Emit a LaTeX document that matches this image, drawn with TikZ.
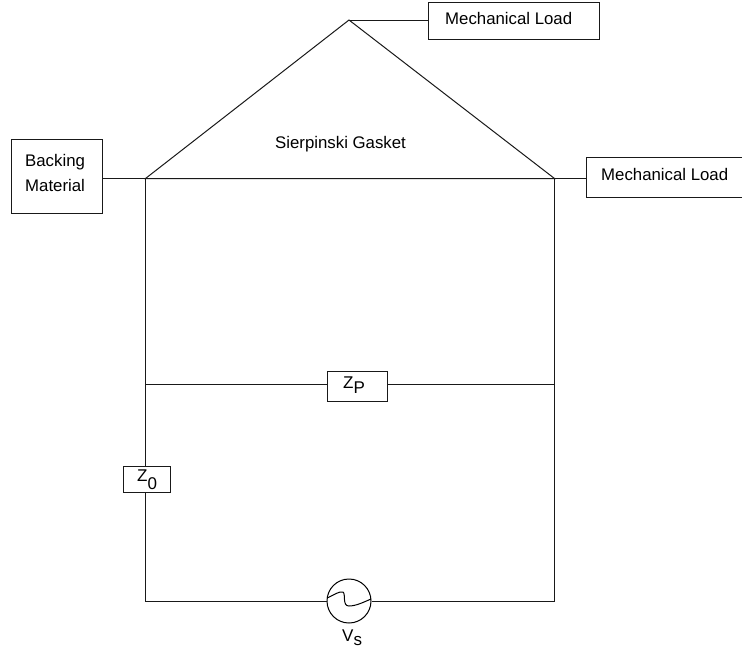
\documentclass[tikz,border=0pt]{standalone}
\usepackage{fontspec}
\setmainfont{Liberation Sans}
\tikzset{
  wire/.style={draw=black!90,line width=1pt},
  labelbox/.style={draw=black!90,line width=1pt,fill=white,inner sep=0pt,anchor=north west,minimum width=10pt},
  plaintext/.style={inner sep=0pt,anchor=base west,font=\fontsize{16.8}{20}\selectfont},
  symboltext/.style={inner sep=0pt,anchor=base west,font=\fontsize{17}{20}\selectfont},
  source/.style={circle,draw=black,line width=1pt,fill=white,minimum size=44pt,inner sep=0pt}
}
\begin{document}
\begin{tikzpicture}[x=1pt,y=-1pt]
\useasboundingbox (0,0) rectangle (742,651);
% junctions
\coordinate (apex) at (349,20);
\coordinate (tl) at (145.5,178.5);
\coordinate (tr) at (554.5,178.5);
\coordinate (bl) at (145.5,601);
\coordinate (br) at (554.5,601);
\coordinate (ml) at (145.5,384);
\coordinate (mr) at (554.5,384);
% boxes
\node[labelbox,minimum width=91pt,minimum height=74pt] (backing) at (11,139) {};
\node[labelbox,minimum width=171pt,minimum height=37pt] (loadtop) at (428,2) {};
\node[labelbox,minimum width=158pt,minimum height=40pt] (loadright) at (586,157) {};
\node[labelbox,minimum width=60pt,minimum height=30pt] (zp) at (327,371) {};
\node[labelbox,minimum width=47pt,minimum height=26pt] (zo) at (123,466) {};
\node[source] (vs) at (349,601) {};
% wires
\draw[wire] (apex) -- (tl) -- (tr) -- cycle;
\draw[wire] (loadtop.west |- apex) -- (apex);
\draw[wire] (backing.east |- tl) -- (tl);
\draw[wire] (tr) -- (loadright.west |- tr);
\draw[wire] (tl) -- (zo.north -| tl);
\draw[wire] (zo.south -| tl) -- (bl) -- (vs.west);
\draw[wire] (vs.east) -- (br) -- (tr);
\draw[wire] (ml) -- (zp.west |- ml);
\draw[wire] (zp.east |- mr) -- (mr);
% source wave
\draw[line width=1pt] (327,598) .. controls (334,595) and (339,591) .. (343,592) .. controls (346,594) and (342,606) .. (349,606) .. controls (356,606) and (364,602) .. (371,599);
% labels
\node[plaintext] (backing1) at (25,166) {Backing};
\node[plaintext] (backing2) at (25,191) {Material};
\node[plaintext] (top) at (445,24) {Mechanical Load};
\node[plaintext] (right) at (601,180) {Mechanical Load};
\node[plaintext] (title) at (275,148) {Sierpinski Gasket};
\node[symboltext] (zplabel) at (343,388.5) {Z\raisebox{-4.5pt}{P}};
\node[symboltext] (zolabel) at (137,481) {Z\raisebox{-8pt}{0}};
\node[symboltext] (vslabel) at (342,641) {V\raisebox{-4pt}{s}};
\end{tikzpicture}
\end{document}
